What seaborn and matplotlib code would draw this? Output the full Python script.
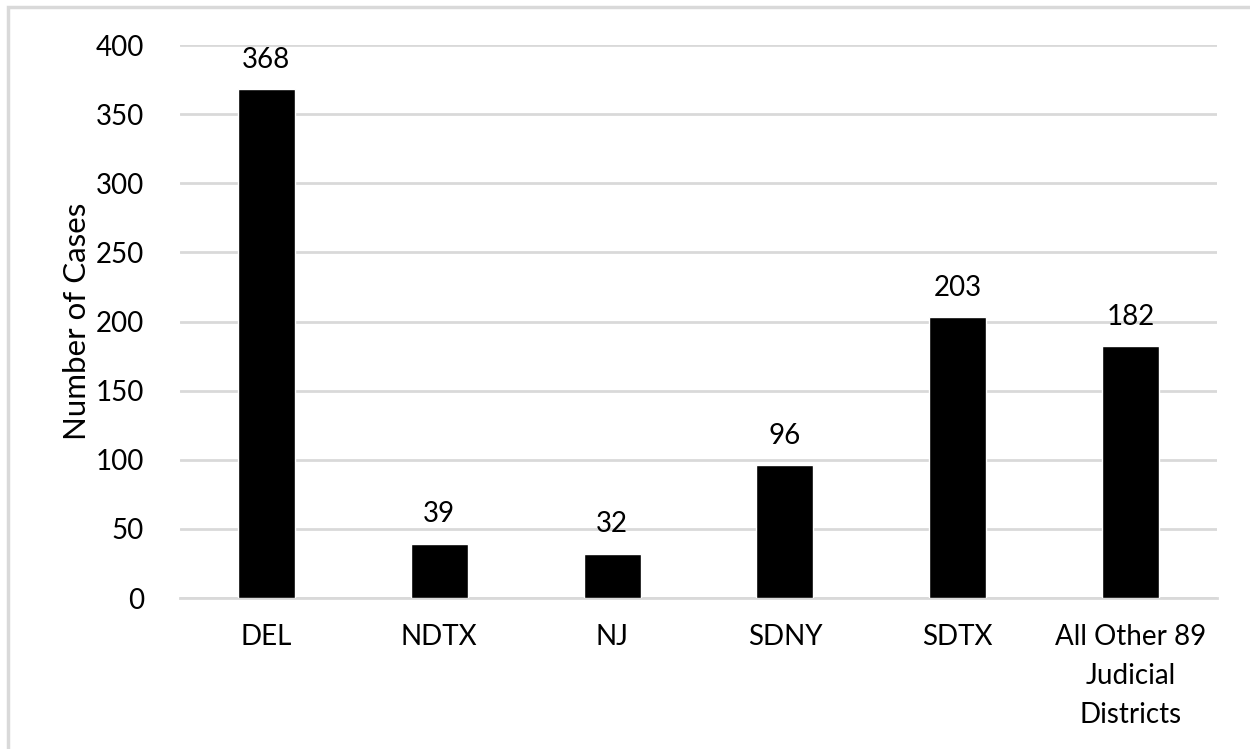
import matplotlib
matplotlib.use("Agg")
import matplotlib.pyplot as plt
import seaborn as sns
import pandas as pd
from matplotlib.patches import Rectangle

districts = ["DEL", "NDTX", "NJ", "SDNY", "SDTX", "All Other 89\nJudicial\nDistricts"]
cases = [368, 39, 32, 96, 203, 182]
y_ticks = [0, 50, 100, 150, 200, 250, 300, 350, 400]

sns.set_theme(style="white")
plt.rcParams["font.family"] = ["Lato", "DejaVu Sans"]

df = pd.DataFrame({"district": districts, "cases": cases})

fig = plt.figure(figsize=(12.5, 7.49), dpi=100)
ax = fig.add_axes([0.144, 0.2016, 0.8296, 0.7383])

sns.barplot(data=df, x="district", y="cases", color="black", width=0.33,
            saturation=1, ax=ax, zorder=3)

ax.set_ylim(0, 400)
ax.set_yticks(y_ticks)
ax.set_xlim(-0.5, len(districts) - 0.5)
ax.yaxis.grid(True, color="#d9d9d9", linewidth=2, zorder=0)
ax.xaxis.grid(False)
for side in ["top", "right", "left"]:
    ax.spines[side].set_visible(False)
ax.spines["bottom"].set_color("#d9d9d9")
ax.spines["bottom"].set_linewidth(2)
ax.spines["bottom"].set_zorder(0)

ax.tick_params(axis="y", length=0, pad=26, labelsize=20, labelcolor="black")
ax.tick_params(axis="x", length=0, pad=19, labelsize=20, labelcolor="black")
ax.set_xlabel("")
ax.set_ylabel("Number of Cases", fontsize=22.5, labelpad=3, color="black")
for lbl in ax.get_xticklabels():
    lbl.set_linespacing(1.6)

for container in ax.containers:
    ax.bar_label(container, labels=[str(v) for v in cases], padding=12,
                 fontsize=20, color="black")

# light frame around the figure (left and top edges visible)
fig.patches.append(Rectangle((8 / 1250, -0.1), 1.2, 1 - 7 / 749 + 0.1,
                             transform=fig.transFigure, fill=False,
                             edgecolor="#d9d9d9", linewidth=2.5))

fig.savefig("out.png", dpi=100, facecolor="white")
